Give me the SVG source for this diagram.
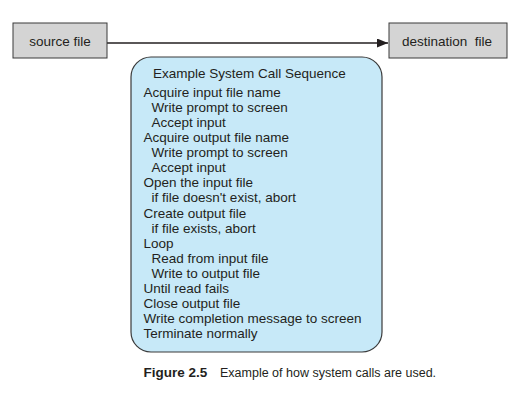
<svg xmlns="http://www.w3.org/2000/svg" width="518" height="402" viewBox="0 0 518 402">
<style>
.file{fill:#d4d4d4;stroke:#3a3a3a;stroke-width:1}
.t{font-family:"Liberation Sans",Arial,sans-serif;font-size:13.5px;fill:#231f20}
.seq{fill:#c7e9f8;stroke:#3a3a3a;stroke-width:1.2}
.conn{stroke:#231f20;stroke-width:1.4;fill:none}
</style>
<defs>
<marker id="arr" markerWidth="12" markerHeight="10" refX="11" refY="4.5" orient="auto" markerUnits="userSpaceOnUse">
<path d="M0,0 L11,4.5 L0,9 Z" fill="#231f20"/>
</marker>
</defs>
<rect width="518" height="402" fill="#ffffff"/>
<g id="connectors">
<line class="conn" x1="107" y1="43" x2="388" y2="43" marker-end="url(#arr)"/>
</g>
<g id="source">
<rect class="file" x="13" y="23" width="94" height="35"/>
<text class="t" x="60" y="45.5" text-anchor="middle">source file</text>
</g>
<g id="destination">
<rect class="file" x="389" y="23" width="118" height="35"/>
<text class="t" x="447" y="45.5" text-anchor="middle" xml:space="preserve">destination  file</text>
</g>
<g id="sequence">
<rect class="seq" x="131" y="57" width="251" height="295" rx="20" ry="20"/>
<text class="t" x="153" y="78">Example System Call Sequence</text>
<text class="t" x="143.5" y="97">Acquire input file name</text>
<text class="t" x="151.5" y="112">Write prompt to screen</text>
<text class="t" x="151.5" y="127.1">Accept input</text>
<text class="t" x="143.5" y="142.2">Acquire output file name</text>
<text class="t" x="151.5" y="157.2">Write prompt to screen</text>
<text class="t" x="151.5" y="172.3">Accept input</text>
<text class="t" x="143.5" y="187.4">Open the input file</text>
<text class="t" x="151.5" y="202.4">if file doesn't exist, abort</text>
<text class="t" x="143.5" y="217.5">Create output file</text>
<text class="t" x="151.5" y="232.5">if file exists, abort</text>
<text class="t" x="143.5" y="247.6">Loop</text>
<text class="t" x="151.5" y="262.7">Read from input file</text>
<text class="t" x="151.5" y="277.7">Write to output file</text>
<text class="t" x="143.5" y="292.8">Until read fails</text>
<text class="t" x="143.5" y="307.8">Close output file</text>
<text class="t" x="143.5" y="322.9">Write completion message to screen</text>
<text class="t" x="143.5" y="338">Terminate normally</text>
</g>
<text class="t" x="143.5" y="377"><tspan font-weight="bold">Figure 2.5</tspan><tspan x="220" font-size="12.5px">Example of how system calls are used.</tspan></text>
</svg>
